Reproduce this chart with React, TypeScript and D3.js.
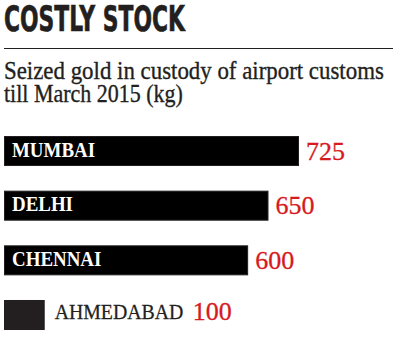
import React, { useLayoutEffect, useRef, useState } from "react";
import * as d3 from "d3";

const cities = ["MUMBAI", "DELHI", "CHENNAI", "AHMEDABAD"];
const goldKg = [725, 650, 600, 100];

const title = "COSTLY STOCK";
const subtitleLines = ["Seized gold in custody of airport customs", "till March 2015 (kg)"];

const W = 400;
const H = 352;
const ink = "#231f20";
const red = "#d71920";
const serif = "'Liberation Serif', 'DejaVu Serif', serif";

// squeezes a text horizontally so it fills `width` (condensed look)
const FitText: React.FC<{
  x: number;
  y: number;
  width: number;
  children: string;
  [k: string]: any;
}> = ({ x, y, width, children, ...rest }) => {
  const ref = useRef<SVGTextElement | null>(null);
  const [sx, setSx] = useState(1);
  useLayoutEffect(() => {
    if (!ref.current) return;
    const len = ref.current.getComputedTextLength();
    if (len > 0) setSx(width / len);
  }, [width, children]);
  return (
    <g transform={`translate(${x},${y}) scale(${sx},1)`}>
      <text ref={ref} {...rest}>
        {children}
      </text>
    </g>
  );
};

const App: React.FC = () => {
  const data = cities.map((name, i) => ({ name, value: goldKg[i] }));

  const x = d3.scaleLinear().domain([0, 725]).range([0, 295]);
  const y = d3
    .scaleBand<string>()
    .domain(cities)
    .range([136, 330])
    .paddingInner(0.451)
    .paddingOuter(0);

  const left = 4;
  const squeeze = 0.88; // fake a condensed serif

  return (
    <div style={{ position: "absolute", left: 0, top: 0 }}>
      <svg width={W} height={H} style={{ display: "block", background: "#fff" }}>
        <FitText
          x={left}
          y={31}
          width={181}
          fontFamily="'Liberation Sans Narrow', 'DejaVu Sans Condensed', sans-serif"
          fontWeight="bold"
          fontSize={35}
          fill={ink}
          stroke={ink}
          strokeWidth={0.6}
        >
          {title}
        </FitText>
        <line x1={left} x2={393} y1={48.5} y2={48.5} stroke={ink} strokeWidth={1.2} />
        {subtitleLines.map((s, i) => (
          <FitText
            key={s}
            x={left}
            y={79 + i * 22.5}
            width={i === 0 ? 380 : 179}
            fontFamily={serif}
            fontSize={25}
            fill={ink}
            stroke={ink}
            strokeWidth={0.35}
          >
            {s}
          </FitText>
        ))}

        {data.map((d) => {
          const top = y(d.name) as number;
          const bw = x(d.value);
          const inside = bw > 120;
          const labelX = left + bw + 10;
          return (
            <g key={d.name}>
              <rect
                x={left + 0.5}
                y={top + 0.5}
                width={bw - 1}
                height={y.bandwidth() - 1}
                fill={inside ? "#000" : ink}
                stroke={ink}
                strokeWidth={1}
              />
              {inside ? (
                <g transform={`translate(${left + 8},${top + 20.5}) scale(${squeeze},1)`}>
                  <text fontFamily={serif} fontWeight="bold" fontSize={21.5} fill="#fff">
                    {d.name}
                  </text>
                </g>
              ) : (
                <g transform={`translate(${labelX},${top + 19.5}) scale(0.9,1)`}>
                  <text fontFamily={serif} fontSize={22} fill={ink} stroke={ink} strokeWidth={0.3}>
                    {d.name}
                  </text>
                </g>
              )}
              <text
                x={inside ? left + bw + 7 : labelX + 138}
                y={top + (inside ? 23.5 : 20.5)}
                fontFamily={serif}
                fontSize={26}
                fill={red}
                stroke={red}
                strokeWidth={0.3}
              >
                {d.value}
              </text>
            </g>
          );
        })}
      </svg>
    </div>
  );
};

export default App;
